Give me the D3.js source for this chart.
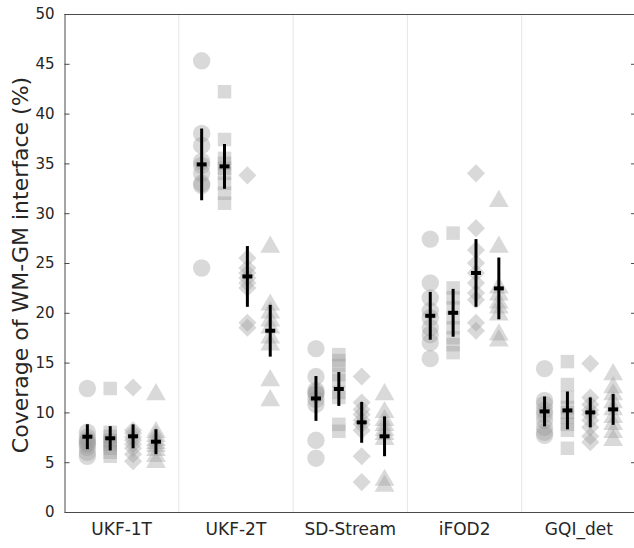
<!DOCTYPE html>
<html><head><meta charset="utf-8">
<script src="https://cdn.jsdelivr.net/npm/d3@7"></script>
<style>body{margin:0;background:#fff}svg{display:block}</style>
</head><body>
<svg id="c" width="634" height="548"></svg>
<script>
const categories = ["UKF-1T", "UKF-2T", "SD-Stream", "iFOD2", "GQI_det"];
const subgroups = ["circle", "square", "diamond", "triangle"];
const yTicks = [0, 5, 10, 15, 20, 25, 30, 35, 40, 45, 50];

// individual values: [circle, square, diamond, triangle] per category
const pointsUKF1T = [
  [12.4, 8.0, 7.5, 7.2, 7.0, 6.8, 6.5, 6.0, 5.6],
  [12.4, 8.0, 7.6, 7.2, 7.0, 6.8, 6.4, 6.0, 5.6],
  [12.5, 8.2, 7.9, 7.5, 7.2, 6.8, 6.4, 5.8, 5.1],
  [11.8, 8.0, 7.6, 7.2, 6.9, 6.6, 6.2, 5.6, 5.0]
];
const pointsUKF2T = [
  [45.3, 38.0, 36.8, 35.2, 34.8, 34.0, 33.0, 32.8, 24.5],
  [42.2, 37.4, 35.5, 35.0, 34.5, 34.0, 33.0, 32.0, 31.0],
  [33.8, 25.5, 24.5, 24.0, 23.5, 23.0, 22.5, 19.0, 18.5],
  [26.6, 20.8, 20.0, 19.2, 18.5, 17.5, 16.8, 13.2, 11.2]
];
const pointsSDStream = [
  [16.4, 13.6, 12.2, 11.8, 11.3, 10.8, 12.0, 7.2, 5.4],
  [15.8, 15.2, 14.7, 13.8, 13.2, 12.0, 11.5, 8.8, 8.1],
  [13.6, 11.0, 10.3, 9.8, 9.2, 8.8, 8.2, 5.6, 3.0],
  [11.8, 10.0, 9.2, 8.7, 8.2, 7.8, 7.3, 3.2, 2.6]
];
const pointsIFOD2 = [
  [27.4, 23.0, 21.5, 20.2, 19.5, 18.5, 17.8, 17.0, 15.4],
  [28.0, 22.5, 21.5, 20.5, 19.5, 18.5, 17.5, 16.8, 16.0],
  [34.0, 28.5, 26.3, 25.0, 24.0, 23.0, 22.0, 21.3, 19.0, 18.2],
  [31.2, 26.6, 22.5, 21.8, 21.0, 20.5, 19.8, 17.8, 17.2]
];
const pointsGQI = [
  [14.4, 11.2, 10.8, 10.2, 9.8, 9.2, 8.5, 8.0, 7.7],
  [15.1, 12.8, 11.5, 10.5, 10.0, 9.5, 8.8, 8.2, 6.4],
  [14.9, 11.5, 10.8, 10.2, 9.8, 9.2, 8.5, 7.6, 7.0],
  [13.8, 12.5, 11.8, 11.0, 10.3, 9.5, 8.8, 8.0, 7.2]
];
// mean and standard deviation per category (rows) and subgroup (columns)
const means = [
  [7.56, 7.4, 7.6, 7.06],
  [34.9, 34.7, 23.65, 18.2],
  [11.4, 12.35, 9.0, 7.6],
  [19.7, 20.0, 24.0, 22.45],
  [10.1, 10.2, 10.0, 10.3]
];
const sds = [
  [1.25, 1.22, 1.2, 1.25],
  [3.6, 2.25, 3.05, 2.6],
  [2.25, 1.7, 2.05, 2.0],
  [2.4, 2.4, 3.4, 3.1],
  [1.5, 1.9, 1.5, 1.55]
];
const allPoints = [pointsUKF1T, pointsUKF2T, pointsSDStream, pointsIFOD2, pointsGQI];

const svg = d3.select("#c");
const L = 64.5, R = 636, T = 14, B = 512;
const x = d3.scaleBand().domain(categories).range([L, R]).padding(0);
const xs = d3.scalePoint().domain(subgroups).range([0, x.bandwidth()]).padding(1);
const y = d3.scaleLinear().domain([0, 50]).range([B, T]);
const axisCol = "#4a4a4a", textCol = "#262626";

// group separators
svg.append("g").selectAll("line").data(categories.slice(1)).join("line")
  .attr("x1", d => x(d)).attr("x2", d => x(d)).attr("y1", T).attr("y2", B)
  .attr("stroke", "#e6e6e6").attr("stroke-width", 1);

// markers
const symbols = {
  circle: d3.symbol().type(d3.symbolCircle).size(Math.PI * 8.7 * 8.7),
  square: d3.symbol().type(d3.symbolSquare).size(13.5 * 13.5),
  diamond: d3.symbol().type(d3.symbolSquare).size(12.8 * 12.8),
  triangle: d3.symbol().type(d3.symbolTriangle).size(170)
};
const marks = svg.append("g");
allPoints.forEach((grp, gi) => {
  grp.forEach((vals, si) => {
    const sg = subgroups[si];
    const cx = x(categories[gi]) + xs(sg);
    marks.selectAll(null).data(vals).join("path")
      .attr("d", symbols[sg]())
      .attr("transform", d => `translate(${cx},${y(d)})` + (sg === "diamond" ? " rotate(45)" : ""))
      .attr("fill", "rgb(150,150,150)").attr("fill-opacity", 0.36);
  });
});

// error bars
const eb = svg.append("g");
means.forEach((row, gi) => {
  row.forEach((m, si) => {
    const cx = x(categories[gi]) + xs(subgroups[si]);
    const s = sds[gi][si];
    eb.append("line").attr("x1", cx).attr("x2", cx)
      .attr("y1", y(m - s)).attr("y2", y(m + s))
      .attr("stroke", "#000").attr("stroke-width", 3);
    eb.append("line").attr("x1", cx - 5).attr("x2", cx + 5)
      .attr("y1", y(m)).attr("y2", y(m))
      .attr("stroke", "#000").attr("stroke-width", 4);
  });
});

// axes
const yAxisL = d3.axisLeft(y).tickValues(yTicks).tickSize(-5).tickPadding(10);
const gy = svg.append("g").attr("transform", `translate(${L},0)`).call(yAxisL);
gy.select(".domain").attr("stroke", axisCol);
gy.selectAll(".tick line").attr("stroke", axisCol);
gy.selectAll("text").attr("fill", textCol).style("font-family", "DejaVu Sans").style("font-size", "15px");

const gyr = svg.append("g").attr("transform", `translate(${R},0)`)
  .call(d3.axisRight(y).tickValues(yTicks).tickSize(-5).tickFormat(""));
gyr.select(".domain").attr("stroke", axisCol);
gyr.selectAll(".tick line").attr("stroke", axisCol);

const gx = svg.append("g").attr("transform", `translate(0,${B})`)
  .call(d3.axisBottom(x).tickSize(0).tickPadding(11));
gx.select(".domain").attr("stroke", axisCol);
gx.selectAll("text").attr("fill", textCol).style("font-family", "DejaVu Sans").style("font-size", "17px");

svg.append("line").attr("x1", L).attr("x2", R).attr("y1", T + 0.5).attr("y2", T + 0.5)
  .attr("stroke", axisCol);

svg.append("text")
  .attr("transform", `translate(28,${(T + B) / 2 + 2}) rotate(-90)`)
  .attr("text-anchor", "middle")
  .attr("fill", textCol)
  .style("font-family", "DejaVu Sans").style("font-size", "22px")
  .text("Coverage of WM-GM interface (%)");
</script>
</body></html>
